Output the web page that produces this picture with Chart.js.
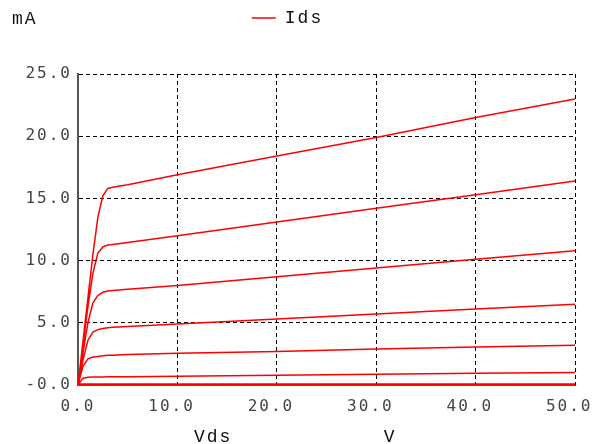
<!DOCTYPE html>
<html>
<head>
<meta charset="utf-8">
<script src="https://cdn.jsdelivr.net/npm/chart.js@4"></script>
<style>
  html, body { margin: 0; padding: 0; background: #fff; }
  #wrap { width: 592px; height: 444px; }
</style>
</head>
<body>
<div id="wrap"><canvas id="chart" width="592" height="444"></canvas></div>
<script>
// Vds sweep (V), shared by every curve
const vds = [0, 0.5, 1, 1.5, 2, 2.5, 3, 3.5, 5, 10, 20, 30, 40, 50]

// Ids (mA), one array per gate step, top curve first
const idsCurve1 = [0, 3.5, 7.0, 10.5, 13.5, 15.2, 15.8, 15.9, 16.1, 16.9, 18.4, 19.9, 21.5, 23.0]
const idsCurve2 = [0, 3.2, 6.3, 9.0, 10.6, 11.1, 11.25, 11.3, 11.45, 12.0, 13.1, 14.2, 15.3, 16.4]
const idsCurve3 = [0, 2.6, 5.0, 6.6, 7.2, 7.45, 7.55, 7.6, 7.7, 8.0, 8.7, 9.4, 10.1, 10.8]
const idsCurve4 = [0, 2.0, 3.6, 4.25, 4.45, 4.55, 4.6, 4.65, 4.7, 4.9, 5.3, 5.7, 6.1, 6.5]
const idsCurve5 = [0, 1.5, 2.1, 2.25, 2.3, 2.35, 2.4, 2.4, 2.45, 2.55, 2.7, 2.9, 3.05, 3.2]
const idsCurve6 = [0, 0.55, 0.62, 0.65, 0.65, 0.65, 0.66, 0.66, 0.67, 0.7, 0.78, 0.86, 0.95, 1.0]
const idsCurve7 = [0, 0, 0, 0, 0, 0, 0, 0, 0, 0, 0, 0, 0, 0]

const curves = [idsCurve1, idsCurve2, idsCurve3, idsCurve4, idsCurve5, idsCurve6]

const RED = '#ff0000'
const TICK_FONT = { family: "'DejaVu Sans Mono', monospace", size: 16 }
const LABEL_FONT = "18px 'Liberation Mono', monospace"

// all curves go in one "Ids" series, split by gaps
const idsPoints = []
curves.forEach((ids, c) => {
  if (c > 0) idsPoints.push({ x: null, y: null })
  ids.forEach((v, i) => idsPoints.push({ x: vds[i], y: v }))
})
const zeroPoints = idsCurve7.map((v, i) => ({ x: vds[i], y: v }))

// mA / Vds / V captions drawn on the canvas
const axisCaptions = {
  id: 'axisCaptions',
  afterDraw(chart) {
    const { ctx } = chart
    const x = chart.scales.x
    ctx.save()
    ctx.font = LABEL_FONT
    ctx.fillStyle = '#111'
    ctx.textBaseline = 'middle'
    ctx.textAlign = 'left'
    ctx.fillText('mA', 12, 19)
    ctx.textAlign = 'center'
    ctx.fillText('Vds', x.getPixelForValue(13.6), 437)
    ctx.fillText('V', x.getPixelForValue(31.4), 437)
    ctx.restore()
  }
}

const letterSpacing = {
  id: 'letterSpacing',
  beforeLayout(chart) { chart.ctx.letterSpacing = '2px' },
  beforeDraw(chart) { chart.ctx.letterSpacing = '2px' }
}

new Chart(document.getElementById('chart').getContext('2d'), {
  type: 'line',
  data: {
    datasets: [
      {
        label: 'Ids',
        data: idsPoints,
        borderColor: RED,
        backgroundColor: RED,
        borderWidth: 1.5,
        pointRadius: 0,
        tension: 0,
        spanGaps: false,
        fill: false
      },
      {
        label: 'Ids0',
        data: zeroPoints,
        borderColor: RED,
        backgroundColor: RED,
        borderWidth: 3.5,
        pointRadius: 0,
        fill: false
      }
    ]
  },
  options: {
    responsive: false,
    animation: false,
    layout: { padding: { left: 0, right: 17, top: 1, bottom: 0 } },
    plugins: {
      legend: {
        display: true,
        position: 'top',
        labels: {
          filter: item => item.datasetIndex === 0,
          usePointStyle: true,
          pointStyle: 'line',
          pointStyleWidth: 24,
          color: '#111',
          font: { family: "'Liberation Mono', monospace", size: 18 },
          padding: 8
        }
      },
      tooltip: { enabled: false }
    },
    scales: {
      x: {
        type: 'linear',
        min: 0,
        max: 50,
        ticks: {
          stepSize: 10,
          color: '#444',
          font: TICK_FONT,
          padding: 12,
          maxRotation: 0,
          // decimal point sits on the grid line
          callback: v => v.toFixed(1).padStart(4) + ' '
        },
        grid: { color: '#000', lineWidth: 1, drawTicks: false },
        border: { display: true, color: '#555', width: 1, dash: [4, 3] },
        afterFit(scale) {
          scale.height = 59
          scale.paddingLeft = 0
          scale.paddingRight = 0
        }
      },
      // empty top axis, only keeps a gap under the legend
      gap: {
        type: 'linear',
        position: 'top',
        display: true,
        ticks: { display: false },
        grid: { display: false },
        border: { display: false },
        afterFit(scale) {
          scale.height = 37
          scale.paddingLeft = 0
          scale.paddingRight = 0
        }
      },
      y: {
        min: 0,
        max: 25,
        ticks: {
          stepSize: 5,
          color: '#444',
          font: TICK_FONT,
          padding: 6,
          callback: v => (v === 0 ? '-0.0' : v.toFixed(1))
        },
        grid: { color: '#000', lineWidth: 1, drawTicks: false },
        border: { display: true, color: '#555', width: 2, dash: [4, 3] },
        afterFit(scale) {
          scale.width = 78
          scale.paddingTop = 0
          scale.paddingBottom = 0
        }
      }
    }
  },
  plugins: [letterSpacing, axisCaptions]
})
</script>
</body>
</html>
